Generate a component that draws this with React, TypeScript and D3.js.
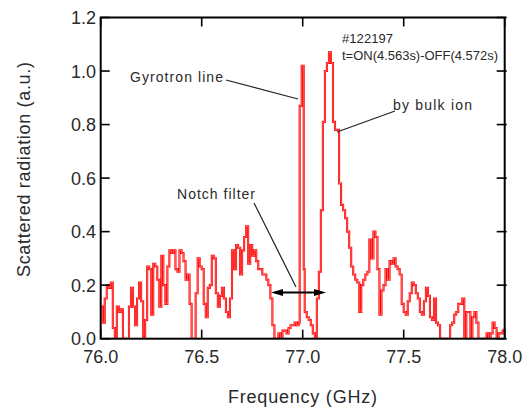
import React from 'react';
import * as d3 from 'd3';

const xTicks = [76.0, 76.5, 77.0, 77.5, 78.0];
const yTicks = [0, 0.2, 0.4, 0.6, 0.8, 1.0, 1.2];
const xTitle = 'Frequency (GHz)';
const yTitle = 'Scattered radiation (a.u.)';
const shotLines = ['#122197', 't=ON(4.563s)-OFF(4.572s)'];
const labelGyro = 'Gyrotron line';
const labelBulk = 'by bulk ion';
const labelNotch = 'Notch filter';

// [frequency (GHz), scattered intensity (a.u.)]
const spectrum: [number, number][] = [
  [76.00, 0.12], [76.01, 0.06], [76.02, 0.15], [76.03, 0.20], [76.04, 0.19],
  [76.05, 0.21], [76.06, 0.04], [76.07, 0.00], [76.08, 0.12], [76.09, 0.10],
  [76.10, 0.11], [76.11, 0.00], [76.12, 0.00], [76.13, 0.00], [76.14, 0.12],
  [76.15, 0.19], [76.16, 0.12], [76.17, 0.05], [76.18, 0.15], [76.19, 0.21],
  [76.20, 0.14], [76.21, 0.00], [76.22, 0.07], [76.23, 0.27], [76.24, 0.26],
  [76.25, 0.09], [76.26, 0.28], [76.27, 0.27], [76.28, 0.22], [76.29, 0.12],
  [76.30, 0.31], [76.31, 0.20], [76.32, 0.13], [76.33, 0.27], [76.34, 0.33],
  [76.35, 0.32], [76.36, 0.33], [76.37, 0.26], [76.38, 0.25], [76.39, 0.33],
  [76.40, 0.32], [76.41, 0.29], [76.42, 0.22], [76.43, 0.24], [76.44, 0.13],
  [76.45, 0.00], [76.46, 0.00], [76.47, 0.17], [76.48, 0.30], [76.49, 0.27],
  [76.50, 0.26], [76.51, 0.13], [76.52, 0.08], [76.53, 0.19], [76.54, 0.20],
  [76.55, 0.31], [76.56, 0.30], [76.57, 0.17], [76.58, 0.12], [76.59, 0.16],
  [76.60, 0.19], [76.61, 0.15], [76.62, 0.10], [76.63, 0.08], [76.64, 0.15],
  [76.65, 0.33], [76.66, 0.26], [76.67, 0.35], [76.68, 0.34], [76.69, 0.24],
  [76.70, 0.33], [76.71, 0.38], [76.72, 0.42], [76.73, 0.28], [76.74, 0.35],
  [76.75, 0.31], [76.76, 0.33], [76.77, 0.29], [76.78, 0.26], [76.79, 0.26],
  [76.80, 0.24], [76.81, 0.24], [76.82, 0.22], [76.83, 0.20], [76.84, 0.15],
  [76.85, 0.05], [76.86, 0.00], [76.87, 0.00], [76.88, 0.02], [76.89, 0.00],
  [76.90, 0.03], [76.91, 0.03], [76.92, 0.02], [76.93, 0.04], [76.94, 0.05],
  [76.95, 0.05], [76.96, 0.06], [76.97, 0.05], [76.98, 0.06], [76.985, 0.87],
  [76.995, 1.02], [77.005, 0.26], [77.01, 0.10], [77.02, 0.08], [77.03, 0.07],
  [77.04, 0.05], [77.05, 0.02], [77.06, 0.00], [77.07, 0.15], [77.08, 0.25],
  [77.09, 0.48], [77.10, 0.81], [77.11, 1.00], [77.12, 1.03], [77.13, 1.07],
  [77.14, 1.03], [77.15, 0.81], [77.16, 0.78], [77.17, 0.78], [77.18, 0.58],
  [77.19, 0.50], [77.20, 0.48], [77.21, 0.45], [77.22, 0.40], [77.23, 0.34],
  [77.24, 0.27], [77.25, 0.24], [77.26, 0.22], [77.27, 0.21], [77.28, 0.10],
  [77.29, 0.20], [77.30, 0.22], [77.31, 0.24], [77.32, 0.25], [77.33, 0.37],
  [77.34, 0.30], [77.35, 0.40], [77.36, 0.38], [77.37, 0.26], [77.38, 0.09],
  [77.39, 0.18], [77.40, 0.20], [77.41, 0.26], [77.42, 0.22], [77.43, 0.29],
  [77.44, 0.28], [77.45, 0.30], [77.46, 0.27], [77.47, 0.26], [77.48, 0.24],
  [77.49, 0.13], [77.50, 0.10], [77.51, 0.09], [77.52, 0.14], [77.53, 0.17],
  [77.54, 0.21], [77.55, 0.20], [77.56, 0.17], [77.57, 0.15], [77.58, 0.10],
  [77.59, 0.09], [77.60, 0.14], [77.61, 0.19], [77.62, 0.16], [77.63, 0.08],
  [77.64, 0.07], [77.65, 0.15], [77.66, 0.06], [77.67, 0.05], [77.68, 0.00],
  [77.69, 0.00], [77.70, 0.00], [77.71, 0.00], [77.72, 0.00], [77.73, 0.05],
  [77.74, 0.06], [77.75, 0.09], [77.76, 0.10], [77.77, 0.13], [77.78, 0.13],
  [77.79, 0.15], [77.80, 0.00], [77.81, 0.10], [77.82, 0.10], [77.83, 0.00],
  [77.84, 0.08], [77.85, 0.10], [77.86, 0.06], [77.87, 0.00], [77.88, 0.00],
  [77.89, 0.00], [77.90, 0.00], [77.91, 0.02], [77.92, 0.00], [77.93, 0.02],
  [77.94, 0.06], [77.95, 0.04], [77.96, 0.00], [77.97, 0.02], [77.98, 0.02],
  [77.99, 0.03], [78.00, 0.04],
];

const FONT = '"Liberation Sans", Arial, Helvetica, sans-serif';
const TXT = '#2a2a2a';

export default function App() {
  const W = 528, H = 408;
  const L = 100.7, R = 504.7, T = 17.5, B = 338.7;
  const x = d3.scaleLinear().domain([76, 78]).range([L, R]);
  const y = d3.scaleLinear().domain([0, 1.2]).range([B, T]);
  const line = d3.line<[number, number]>()
    .x(d => x(d[0]))
    .y(d => y(d[1]))
    .curve(d3.curveStepAfter);
  const path = line(spectrum) || '';
  const ay = 292.5;
  return (
    <svg width={W} height={H} style={{ position: 'absolute', left: 0, top: 0, background: '#fff' }}
      fontFamily={FONT}>
      <rect x={0} y={0} width={W} height={H} fill="#fff" />
      <defs>
        <clipPath id="plot"><rect x={L} y={T - 2} width={R - L} height={B - T + 2} /></clipPath>
      </defs>
      <g clipPath="url(#plot)">
        <path d={path} fill="none" stroke="#ff0000" strokeWidth={2.1} strokeLinejoin="miter" />
        <path d={path} fill="none" stroke="#ffb8b8" strokeWidth={0.5} />
      </g>
      {/* frame */}
      <rect x={L} y={T} width={R - L} height={B - T} fill="none" stroke="#000" strokeWidth={2} />
      {xTicks.map(t => (
        <g key={'x' + t}>
          <line x1={x(t)} x2={x(t)} y1={B} y2={B - 9} stroke="#000" strokeWidth={1.6} />
          <line x1={x(t)} x2={x(t)} y1={T} y2={T + 9} stroke="#000" strokeWidth={1.6} />
          <text x={x(t)} y={363} textAnchor="middle" fontSize={18} fill={TXT}>{t.toFixed(1)}</text>
        </g>
      ))}
      {yTicks.map(t => (
        <g key={'y' + t}>
          <line x1={L} x2={L + 9} y1={y(t)} y2={y(t)} stroke="#000" strokeWidth={1.6} />
          <line x1={R - 8} x2={R + 2} y1={y(t)} y2={y(t)} stroke="#000" strokeWidth={1.6} />
          <text x={96} y={y(t)} dy="0.36em" textAnchor="end" fontSize={18} fill={TXT}>{t.toFixed(1)}</text>
        </g>
      ))}
      <text x={302.5} y={403} textAnchor="middle" fontSize={18} fill={TXT}
        textLength={149} lengthAdjust="spacing">{xTitle}</text>
      <text transform="translate(30,169.5) rotate(-90)" textAnchor="middle" fontSize={18} fill={TXT}
        textLength={215} lengthAdjust="spacing">{yTitle}</text>

      {/* annotations */}
      <text x={342} y={43} fontSize={13} fill={TXT} textLength={51} lengthAdjust="spacing">{shotLines[0]}</text>
      <text x={342} y={59.5} fontSize={13} fill={TXT} textLength={156} lengthAdjust="spacing">{shotLines[1]}</text>

      <text x={130} y={81.5} fontSize={14} fill={TXT} textLength={93} lengthAdjust="spacing">{labelGyro}</text>
      <line x1={226} y1={80} x2={298} y2={99} stroke="#222" strokeWidth={1.2} />

      <text x={393} y={110} fontSize={14} fill={TXT} textLength={79} lengthAdjust="spacing">{labelBulk}</text>
      <line x1={337} y1={132} x2={395} y2={111} stroke="#222" strokeWidth={1.2} />

      <text x={177} y={199} fontSize={14} fill={TXT} textLength={78} lengthAdjust="spacing">{labelNotch}</text>
      <line x1={254} y1={203} x2={296} y2={287} stroke="#222" strokeWidth={1.2} />

      <line x1={275} y1={ay} x2={322} y2={ay} stroke="#000" strokeWidth={1.8} />
      <polygon points={`271,${ay} 283,${ay - 3.5} 283,${ay + 3.5}`} fill="#000" />
      <polygon points={`326,${ay} 314,${ay - 3.5} 314,${ay + 3.5}`} fill="#000" />
    </svg>
  );
}
